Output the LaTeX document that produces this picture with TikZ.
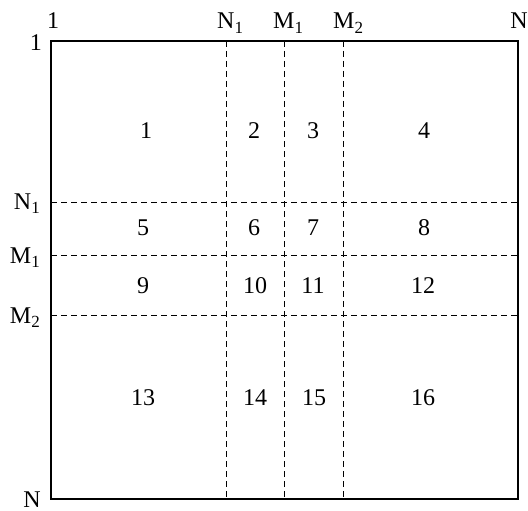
\documentclass[tikz,border=0pt]{standalone}
\usepackage{fontspec}
\setmainfont{Liberation Serif}
\newcommand\subidx[1]{\raisebox{-0.4ex}{\fontsize{17}{17}\selectfont #1}}
\begin{document}
\begin{tikzpicture}[x=1pt,y=-1pt,
  lbl/.style={inner sep=0pt,font=\fontsize{24}{24}\selectfont},
  num/.style={inner sep=0pt,font=\fontsize{24}{24}\selectfont},
  grid/.style={line width=0.9pt,dash pattern=on 6pt off 4pt},
  frame/.style={line width=2pt}]
\useasboundingbox (0,0) rectangle (528,511);
% grid lines
\foreach \x in {226,284,343} \draw[grid] (\x,41) -- (\x,499);
\foreach \y in {202,255,315} \draw[grid] (51,\y) -- (518,\y);
\draw[frame] (51,41) rectangle (518,499);
% top labels
\node[lbl,anchor=base] (t1) at (53,29) {1};
\node[lbl,anchor=base west] (tN1) at (217,29) {N\subidx{1}};
\node[lbl,anchor=base west] (tM1) at (273,29) {M\subidx{1}};
\node[lbl,anchor=base west] (tM2) at (333,29) {M\subidx{2}};
\node[lbl,anchor=base] (tN) at (519,29) {N};
% left labels
\node[lbl,anchor=base east] (l1) at (42,51) {1};
\node[lbl,anchor=base east] (lN1) at (40,209) {N\subidx{1}};
\node[lbl,anchor=base east] (lM1) at (40,263) {M\subidx{1}};
\node[lbl,anchor=base east] (lM2) at (40,323) {M\subidx{2}};
\node[lbl,anchor=base east] (lN) at (41,507) {N};
% cell numbers
\foreach \n/\x/\y in {1/146/131,2/254/131,3/313/131,4/424/131,
  5/143/228,6/254/228,7/313/228,8/424/228,
  9/143/286,10/255/286,11/313/286,12/423/286,
  13/143/398,14/255/398,15/314/398,16/423/398}
  \node[num] (c\n) at (\x,\y) {\n};
\end{tikzpicture}
\end{document}
